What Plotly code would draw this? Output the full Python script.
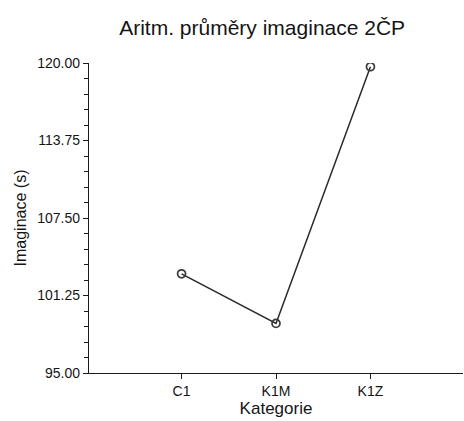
import plotly.graph_objects as go

categories = ["C1", "K1M", "K1Z"]
values = [103.0, 99.0, 119.7]
y_tick_vals = [95.0, 101.25, 107.5, 113.75, 120.0]
y_tick_text = ["95.00", "101.25", "107.50", "113.75", "120.00"]

FONT = "Liberation Sans, Arial, sans-serif"
INK = "#151515"

fig = go.Figure()
fig.add_trace(go.Scatter(
    x=categories, y=values, mode="lines+markers",
    line=dict(color="#2a2a2a", width=1.5),
    marker=dict(symbol="circle-open", size=8, color="#3a3a3a", line=dict(width=1.7)),
    showlegend=False,
))

fig.update_layout(
    width=464, height=421,
    margin=dict(l=89, r=1, t=63, b=48),
    paper_bgcolor="white", plot_bgcolor="white",
    font=dict(family=FONT, color=INK, size=14),
    title=dict(text="Aritm. průměry imaginace 2ČP", x=0.565, xanchor="center",
               y=0.935, yanchor="middle", font=dict(size=21, color=INK, family=FONT)),
)
fig.update_xaxes(
    type="category", range=[-0.98, 2.98],
    showline=True, linecolor="#1a1a1a", linewidth=1.4,
    ticks="outside", ticklen=5, tickcolor="#1a1a1a",
    showgrid=False, zeroline=False,
    tickfont=dict(size=14, color=INK),
    title=dict(text="Kategorie", font=dict(size=17, color=INK), standoff=4),
)
fig.update_yaxes(
    range=[95, 120],
    tickvals=y_tick_vals, ticktext=y_tick_text,
    showline=True, linecolor="#1a1a1a", linewidth=1.4,
    ticks="outside", ticklen=5, tickcolor="#1a1a1a",
    minor=dict(ticks="outside", ticklen=4, tickcolor="#1a1a1a", dtick=1.25, tick0=95, showgrid=False),
    showgrid=False, zeroline=False,
    tickfont=dict(size=14, color=INK),
    title=dict(text="Imaginace (s)", font=dict(size=16, color=INK), standoff=6),
)

fig.write_html("out.html")
